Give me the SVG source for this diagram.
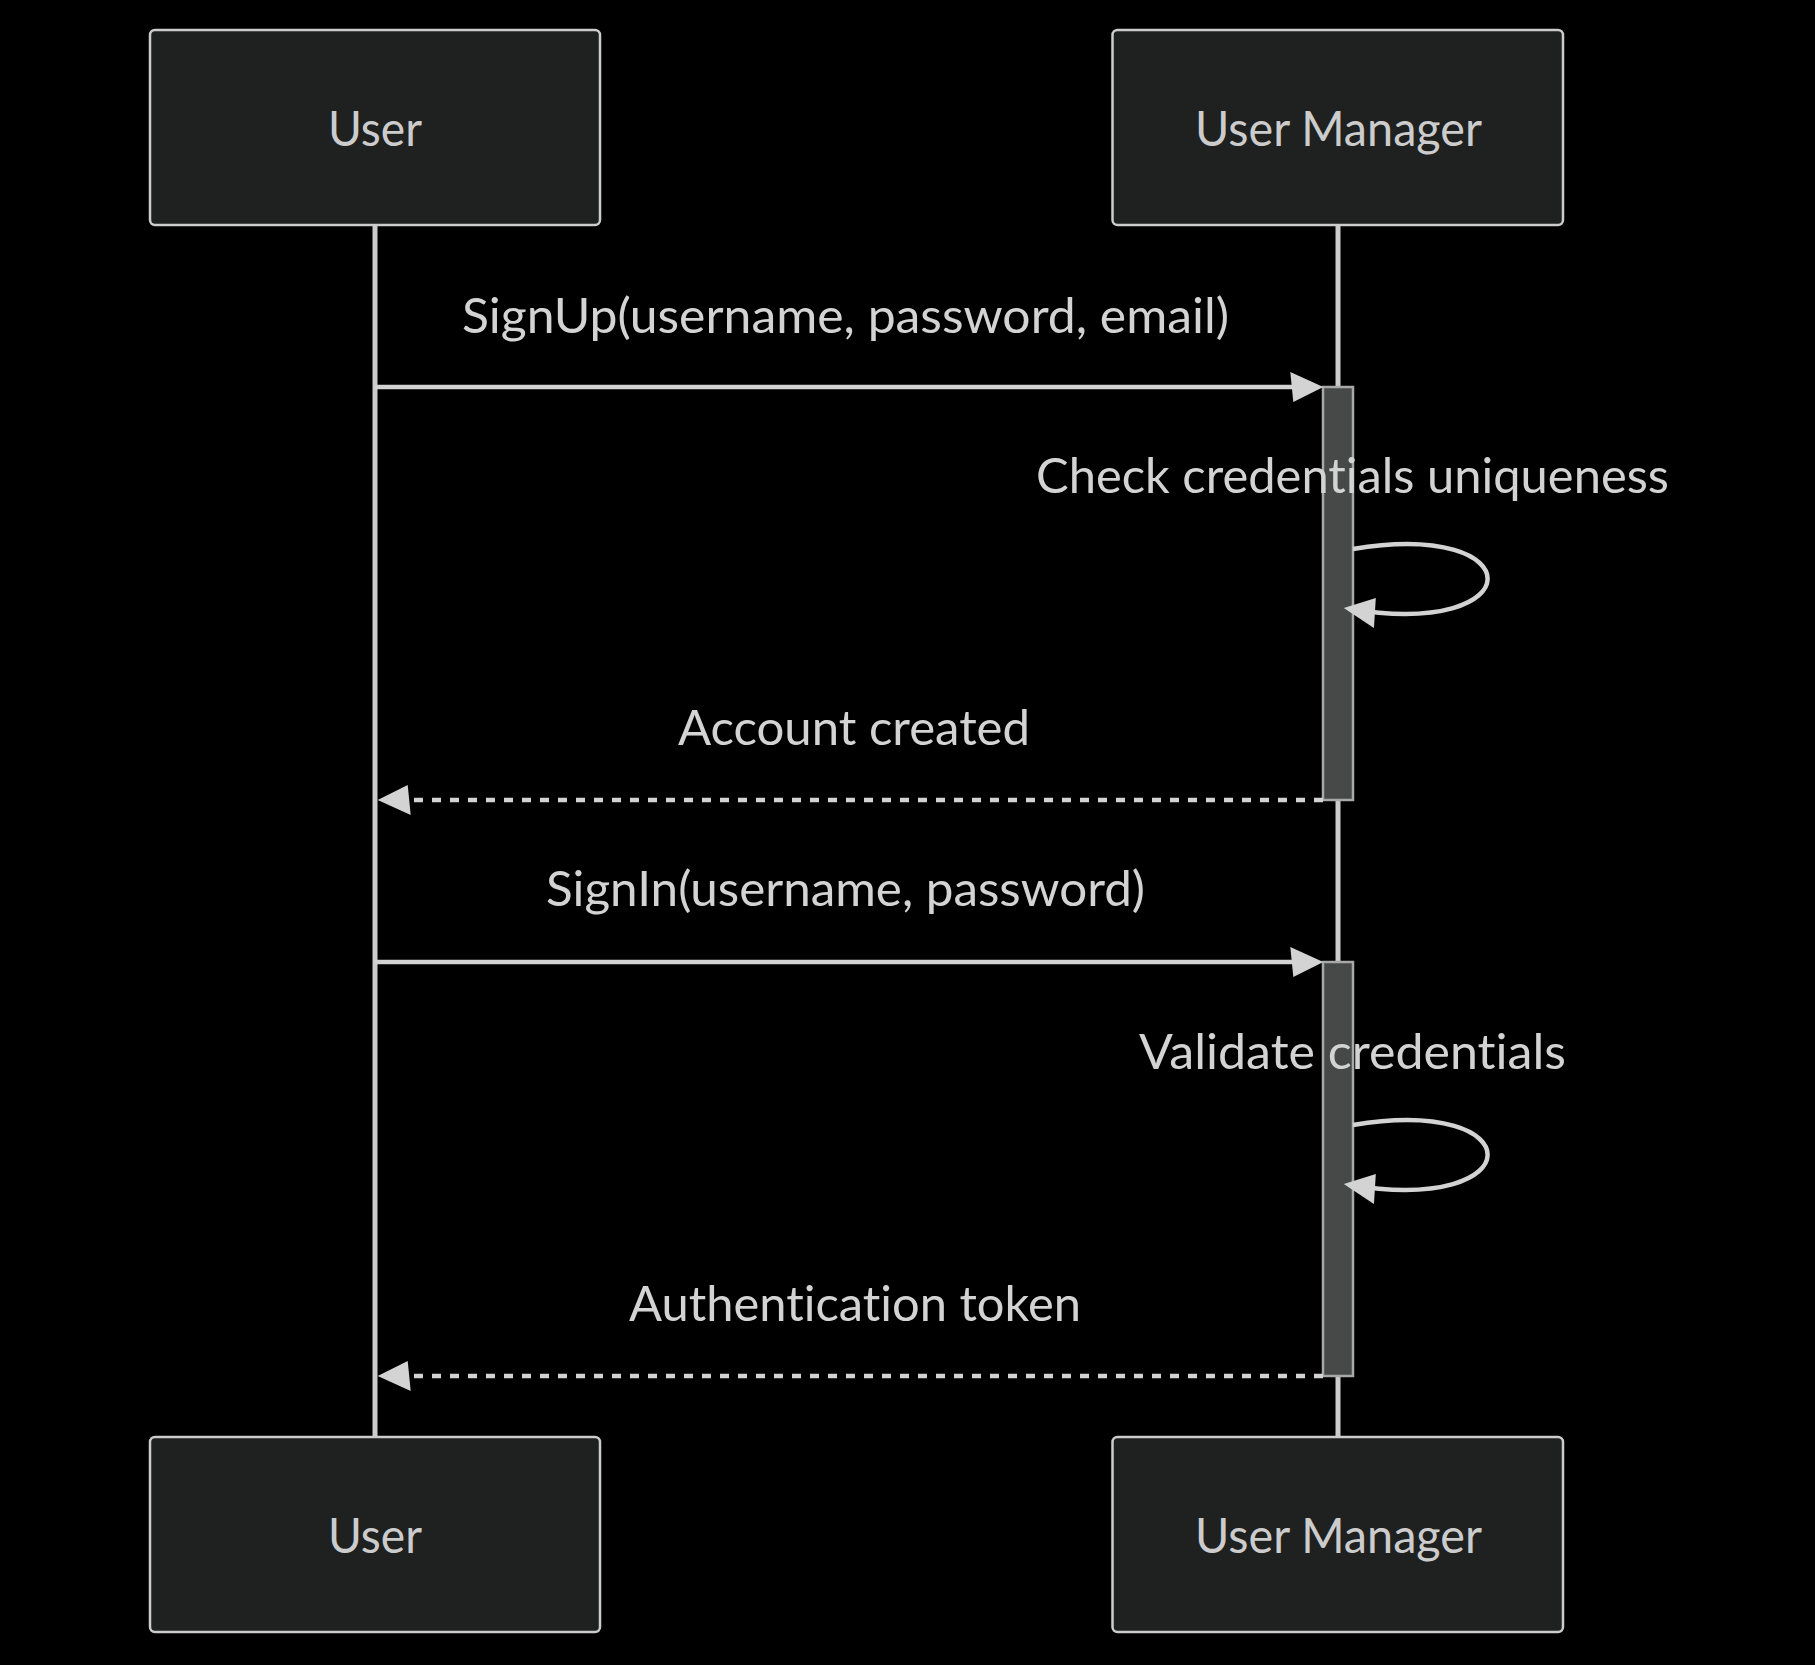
<svg xmlns="http://www.w3.org/2000/svg" width="1815" height="1665" viewBox="0 0 1815 1665">
  <style>
    .actor rect { fill: #1f2020; stroke: #cccccc; stroke-width: 2.5; }
    .actor text { fill: #cccccc; font-family: "Lato", "Liberation Sans", sans-serif; font-size: 48px; text-anchor: middle; font-variant-ligatures: none; font-feature-settings: "liga" 0, "clig" 0; }
    .lifeline { stroke: #cccccc; stroke-width: 5; }
    .activation { fill: #474949; stroke: #a8a8a8; stroke-width: 2.5; }
    .msg { stroke: #d3d3d3; stroke-width: 4.5; fill: none; marker-end: url(#arrow); }
    .dotted { stroke-dasharray: 9 9; }
    .label { fill: #d3d3d3; font-family: "Lato", "Liberation Sans", sans-serif; font-size: 48px; text-anchor: middle; font-variant-ligatures: none; font-feature-settings: "liga" 0, "clig" 0; }
  </style>
  <defs>
    <marker id="arrow" markerUnits="userSpaceOnUse" markerWidth="36" markerHeight="36" refX="23.7" refY="15" orient="auto" overflow="visible">
      <path d="M -3 0 L 30 15 L 0 30 z" fill="#d3d3d3"/>
    </marker>
  </defs>
  <rect x="0" y="0" width="1815" height="1665" fill="#000000"/>

  <g id="lifelines">
    <line class="lifeline" x1="375" y1="225" x2="375" y2="1437"/>
    <line class="lifeline" x1="1338" y1="225" x2="1338" y2="1437"/>
  </g>

  <g id="actor-user-top" class="actor">
    <rect x="150" y="30" width="450" height="195" rx="5"/>
    <text x="375" y="146" textLength="94" lengthAdjust="spacingAndGlyphs">User</text>
  </g>
  <g id="actor-usermanager-top" class="actor">
    <rect x="1112.5" y="30" width="450.5" height="195" rx="5"/>
    <text x="1338.5" y="146" textLength="287" lengthAdjust="spacingAndGlyphs">User Manager</text>
  </g>
  <g id="actor-user-bottom" class="actor">
    <rect x="150" y="1437" width="450" height="195" rx="5"/>
    <text x="375" y="1553" textLength="94" lengthAdjust="spacingAndGlyphs">User</text>
  </g>
  <g id="actor-usermanager-bottom" class="actor">
    <rect x="1112.5" y="1437" width="450.5" height="195" rx="5"/>
    <text x="1338.5" y="1553" textLength="287" lengthAdjust="spacingAndGlyphs">User Manager</text>
  </g>

  <g id="activation-1">
    <rect class="activation" x="1323" y="387" width="30" height="413"/>
  </g>
  <g id="activation-2">
    <rect class="activation" x="1323" y="962" width="30" height="414"/>
  </g>

  <g id="connectors">
    <line class="msg" x1="375" y1="387" x2="1317" y2="387"/>
    <path class="msg" d="M 1353 549 C 1533 519 1533 639 1350 609"/>
    <line class="msg dotted" x1="1323" y1="800" x2="384" y2="800"/>
    <line class="msg" x1="375" y1="962" x2="1317" y2="962"/>
    <path class="msg" d="M 1353 1125 C 1533 1095 1533 1215 1350 1185"/>
    <line class="msg dotted" x1="1323" y1="1376" x2="384" y2="1376"/>
  </g>

  <g id="labels">
    <text class="label" x="845.5" y="333" textLength="767" lengthAdjust="spacingAndGlyphs">SignUp(username, password, email)</text>
    <text class="label" x="1352.5" y="493" textLength="633" lengthAdjust="spacingAndGlyphs">Check credentials uniqueness</text>
    <text class="label" x="854" y="745" textLength="352" lengthAdjust="spacingAndGlyphs">Account created</text>
    <text class="label" x="845.5" y="906" textLength="599" lengthAdjust="spacingAndGlyphs">SignIn(username, password)</text>
    <text class="label" x="1352.5" y="1069" textLength="427" lengthAdjust="spacingAndGlyphs">Validate credentials</text>
    <text class="label" x="855" y="1321" textLength="452" lengthAdjust="spacingAndGlyphs">Authentication token</text>
  </g>
</svg>
